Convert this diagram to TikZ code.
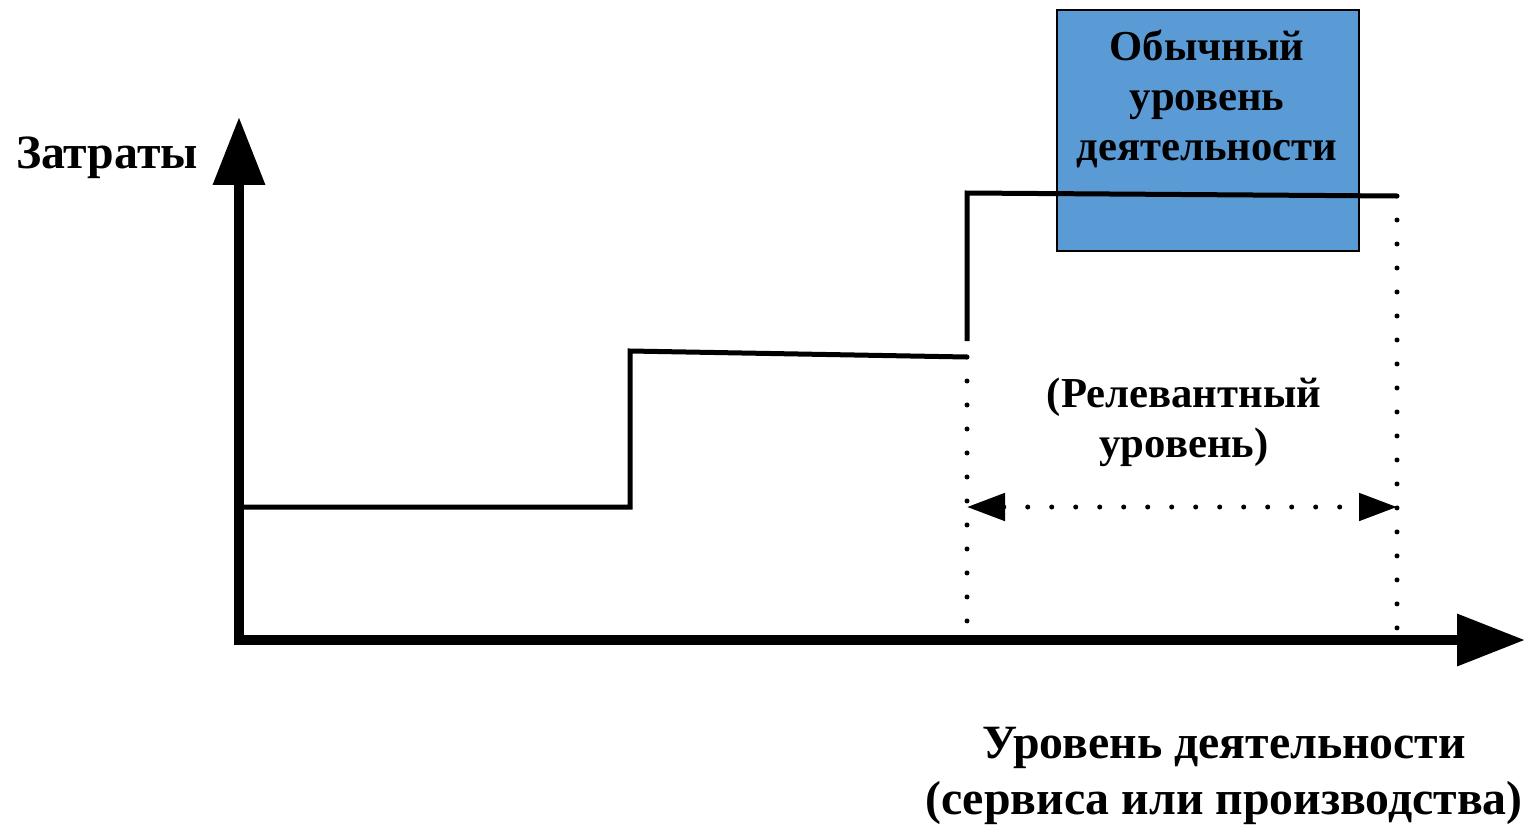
\documentclass[tikz,border=0pt]{standalone}
\usepackage{fontspec}
\setmainfont{Liberation Serif}
\usetikzlibrary{arrows.meta}
\definecolor{boxblue}{HTML}{5B9BD5}
\begin{document}
\begin{tikzpicture}[x=0.02cm,y=-0.02cm,
  lbl/.style={font=\bfseries\fontsize{24.3}{28.6}\selectfont, align=center, inner sep=0pt},
  biglbl/.style={font=\bfseries\fontsize{27.2}{32.3}\selectfont, align=center, inner sep=0pt},
  axis/.style={line width=0.2cm, -{Triangle[length=1.36cm,width=1cm]}},
  stepline/.style={line width=0.1cm},
  dotline/.style={line width=0.1cm, line cap=round, dash pattern=on 0pt off 0.48cm},
  dblarrow/.style={line width=0.1cm, line cap=round, dash pattern=on 0pt off 0.48cm,
     {Triangle[length=0.76cm,width=0.54cm]}-{Triangle[length=0.76cm,width=0.54cm]}}
]
\useasboundingbox (0,0) rectangle (1529,829);
% blue box
\node[draw=black, line width=0.04cm, fill=boxblue, minimum width=6.04cm, minimum height=4.82cm, inner sep=0pt] (box) at (1208,130.5) {};
\node[lbl] (boxtxt) at (1207,99) {Обычный\\уровень\\деятельности};
% coordinates
\coordinate (o) at (239,640);
\coordinate (ytip) at (239,117);
\coordinate (xtip) at (1525,640);
\coordinate (x0) at (234,640);
\coordinate (a) at (239,507);
\coordinate (b) at (630,507);
\coordinate (c) at (630,351);
\coordinate (d) at (967,357);
\coordinate (e) at (967,341);
\coordinate (f) at (967,193);
\coordinate (g) at (1397,196);
\coordinate (dl) at (967,630);
\coordinate (dr) at (1397,630);
\coordinate (hl) at (967,507);
\coordinate (hr) at (1397,507);
% dotted verticals
\draw[dotline] (d) -- (dl);
\draw[dotline] (g) -- (dr);
% double arrow
\draw[dblarrow] (hl) -- (hr);
% step lines
\draw[stepline] (a) -- (b) -- (c) -- (d);
\draw[stepline] (e) -- (f) -- (g);
% axes
\draw[axis] (o) -- (ytip);
\draw[axis] (x0) -- (xtip);
% labels
\node[biglbl] (zatr) at (107,158) {Затраты};
\node[lbl] (rel) at (1184,422) {(Релевантный\\уровень)};
\node[biglbl] (xlab) at (1224,776) {Уровень деятельности\\(сервиса или производства)};
\end{tikzpicture}
\end{document}
